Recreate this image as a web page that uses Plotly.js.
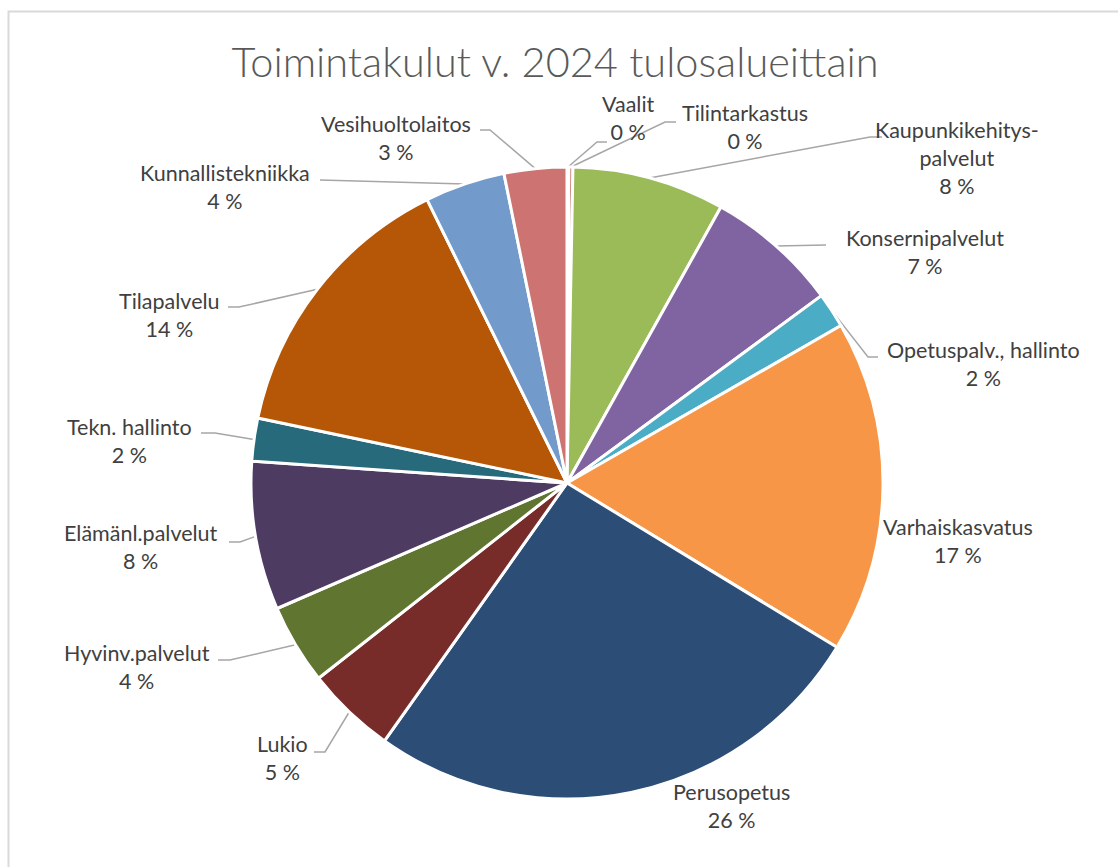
<!DOCTYPE html>
<html>
<head>
<meta charset="utf-8">
<script src="https://cdn.plot.ly/plotly-3.0.1.min.js"></script>
<style>
  html, body { margin: 0; padding: 0; background: #fff; }
  #chart { width: 1118px; height: 867px; }
</style>
</head>
<body>
<div id="chart"></div>
<script>
// Toimintakulut v. 2024 tulosalueittain — osuudet (%) kuvasta arvioituina
const areas = [
  "Vaalit", "Tilintarkastus", "Kaupunkikehitys-<br>palvelut", "Konsernipalvelut",
  "Opetuspalv., hallinto", "Varhaiskasvatus", "Perusopetus", "Lukio",
  "Hyvinv.palvelut", "Elämänl.palvelut", "Tekn. hallinto", "Tilapalvelu",
  "Kunnallistekniikka", "Vesihuoltolaitos"
];
const shares = [0.1, 0.2, 7.8, 6.8, 1.8, 17.0, 26.1, 4.6, 4.1, 7.6, 2.2, 14.4, 4.1, 3.2];
const colors = [
  "#4F81BD", "#C0504D", "#9BBB59", "#8064A2", "#4BACC6", "#F79646", "#2C4D75",
  "#772C2A", "#5F7530", "#4D3B62", "#276A7C", "#B65708", "#729ACA", "#CD7371"
];

// layout: pie geometry (px) and label placement (text centre + elbow of leader line)
const W = 1118, H = 867;
const CX = 567, CY = 483, R = 316;
const labelPos = [
  [628, 118], [745, 127], [957, 158], [925, 252], [983, 364], [958, 541], [731, 806],
  [282, 758], [137, 667], [141, 547], [129, 441], [169, 315], [225, 187], [396, 138]
];
const elbows = [
  [[597, 142], [607, 142]], [[665, 122], [676, 122]], [[870, 137], [882, 137]],
  [[826, 245]], [[868, 357], [878, 357]], null, null,
  [[325, 752], [314, 752]], [[230, 660], [218, 660]], [[240, 542], [229, 542]],
  [[215, 433], [201, 433]], [[239, 307], [228, 307]], [[320, 180]], [[490, 130], [480, 130]]
];

const total = shares.reduce((a, b) => a + b, 0);
const fontFam = "Lato, 'Open Sans', sans-serif";

const pie = {
  type: "pie",
  values: shares,
  labels: areas,
  sort: false,
  direction: "clockwise",
  rotation: 0,
  marker: { colors: colors, line: { color: "#ffffff", width: 3 } },
  textinfo: "none",
  hoverinfo: "label+percent",
  domain: {
    x: [(CX - R) / W, (CX + R) / W],
    y: [(H - CY - R) / H, (H - CY + R) / H]
  },
  automargin: false,
  showlegend: false
};

// leader lines: from slice edge at mid-angle to the label elbow
const leaders = [];
const annotations = [];
let cum = 0;
shares.forEach((v, i) => {
  const mid = (cum + v / 2) / total * 2 * Math.PI;
  cum += v;
  const ax = CX + R * Math.sin(mid);
  const ay = CY - R * Math.cos(mid);
  if (elbows[i]) {
    const xs = [ax], ys = [ay];
    elbows[i].forEach(p => { xs.push(p[0]); ys.push(p[1]); });
    leaders.push({
      type: "scatter", mode: "lines", x: xs, y: ys,
      line: { color: "#A6A6A6", width: 1.5 },
      hoverinfo: "skip", showlegend: false
    });
  }
  annotations.push({
    xref: "x", yref: "y", x: labelPos[i][0], y: labelPos[i][1],
    text: areas[i] + "<br>" + Math.round(v / total * 100) + " %",
    showarrow: false, align: "center", xanchor: "center", yanchor: "middle",
    font: { family: fontFam, size: 21.5, color: "#404040" }
  });
});

const layout = {
  width: W, height: H,
  margin: { l: 0, r: 0, t: 0, b: 0 },
  paper_bgcolor: "#ffffff", plot_bgcolor: "rgba(0,0,0,0)",
  title: {
    text: "Toimintakulut v. 2024 tulosalueittain",
    x: 555 / W, xanchor: "center", xref: "paper",
    y: 1 - 62 / H, yanchor: "middle", yref: "paper",
    font: { family: fontFam, size: 41.5, color: "#595959", weight: 300 }
  },
  xaxis: { range: [0, W], visible: false, fixedrange: true },
  yaxis: { range: [H, 0], visible: false, fixedrange: true },
  annotations: annotations,
  shapes: [{
    type: "rect", xref: "paper", yref: "paper",
    x0: 8.5 / W, x1: 1.05, y0: -0.05, y1: 1 - 11.5 / H,
    line: { color: "#D9D9D9", width: 2 }, fillcolor: "rgba(0,0,0,0)"
  }],
  showlegend: false
};

Plotly.newPlot("chart", [pie].concat(leaders), layout, { displayModeBar: false, staticPlot: true });
</script>
</body>
</html>
